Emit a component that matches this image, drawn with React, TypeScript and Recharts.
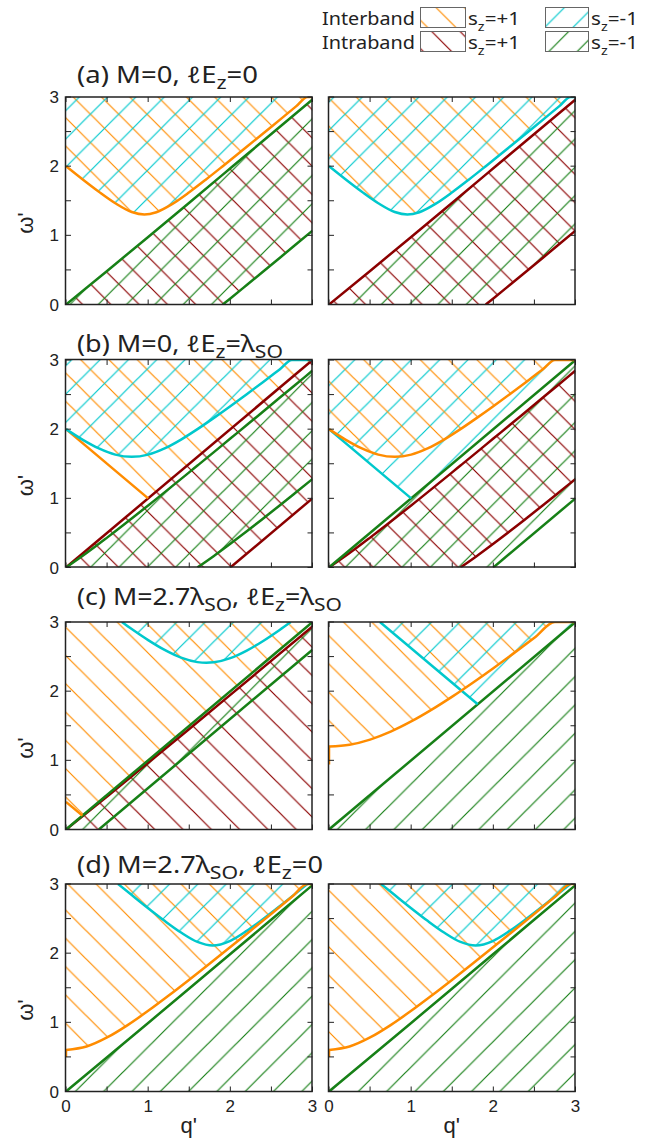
import React from "react";
import { ComposedChart, Area, Line, XAxis, YAxis } from "recharts";

// ---------------------------------------------------------------------------
// Data: continuum boundaries in (q', ω')
// ---------------------------------------------------------------------------

const TICKS = [0, 0.5, 1, 1.5, 2, 2.5, 3];
const TICK_LABELS = ["0", "1", "2", "3"];
const TOP = 3;

// (a) M=0, lEz=0
const A_INTER_Q = [0, 0.2, 0.4, 0.6, 0.8, 0.954, 1.1, 1.3, 1.5, 1.7, 1.908, 2.2, 2.5, 2.8, 2.94, 3];
const A_INTER_W = [2.0, 1.811, 1.63, 1.464, 1.337, 1.3, 1.334, 1.458, 1.623, 1.804, 2.0, 2.28, 2.571, 2.864, 3.0, 3.0];
const A_INTRA_Q = [0, 0.5, 1, 1.5, 1.908, 2, 2.2, 2.4, 2.6, 2.8, 3];
const A_INTRA_LO = [0, 0, 0, 0, 0, 0.088, 0.282, 0.477, 0.673, 0.87, 1.068];
const A_INTRA_HI = [0, 0.485, 0.977, 1.472, 1.878, 1.969, 2.168, 2.367, 2.567, 2.766, 2.965];

// (b) M=0, lEz=λSO : one massless branch, one with gap
const B0_INTER_Q = [0, 1, 3];
const B0_INTER_W = [2, 1, 3];
const B0_INTRA_Q = [0, 2, 3];
const B0_INTRA_LO = [0, 0, 1];
const B0_INTRA_HI = [0, 2, 3];
const B6_INTER_Q = [0, 0.2, 0.4, 0.6, 0.8, 1.0, 1.2, 1.4, 1.6, 1.8, 2.0, 2.2, 2.4, 2.6, 2.75, 3];
const B6_INTER_W = [2.0, 1.849, 1.721, 1.632, 1.6, 1.632, 1.721, 1.849, 2.0, 2.163, 2.332, 2.506, 2.683, 2.864, 3.0, 3.0];
const B6_INTRA_Q = [0, 0.25, 0.5, 1, 1.6, 1.8, 2, 2.2, 2.4, 2.6, 2.8, 3];
const B6_INTRA_LO = [0, 0, 0, 0, 0, 0.166, 0.342, 0.523, 0.709, 0.897, 1.088, 1.28];
const B6_INTRA_HI = [0, 0.209, 0.432, 0.897, 1.474, 1.668, 1.864, 2.059, 2.256, 2.453, 2.65, 2.847];

// (c) M=2.7λSO, lEz=λSO
const CL_OR_Q = [0, 0.2, 3];
const CL_OR_W = [0.4, 0.2, 3];
const CL_CY_Q = [0.68, 0.8, 1.0, 1.2, 1.4, 1.6, 1.708, 1.8, 2.0, 2.2, 2.4, 2.6, 2.736];
const CL_CY_W = [3.0, 2.898, 2.738, 2.596, 2.485, 2.42, 2.41, 2.417, 2.477, 2.586, 2.726, 2.885, 3.0];
const CL_STRIP_Q = [0, 0.4, 3];
const CL_STRIP_LO = [0, 0, 2.6];
const CL_STRIP_HI = [0, 0.4, 3];
const CL_DR_Q = [0, 0.5, 1, 1.5, 2, 2.5, 3];
const CL_DR_HI = [0, 0.478, 0.964, 1.454, 1.946, 2.441, 2.936];
const CR_OR_Q = [0, 0.25, 0.5, 0.75, 1, 1.25, 1.5, 1.75, 2, 2.25, 2.5, 2.75, 3];
const CR_OR_W = [1.2, 1.226, 1.3, 1.415, 1.562, 1.733, 1.921, 2.122, 2.332, 2.55, 2.773, 3.0, 3.0];
const CR_OR_STUB = [0.94, 1.2];
const CR_CY_Q = [0.62, 1.81, 3];
const CR_CY_W = [3, 1.81, 3];
const CR_GR_Q = [0, 3];
const CR_GR_HI = [0, 3];

// (d) M=2.7λSO, lEz=0
const D_OR_Q = [0, 0.25, 0.5, 0.75, 1, 1.25, 1.5, 1.75, 2, 2.25, 2.5, 2.75, 2.94, 3];
const D_OR_W = [0.6, 0.65, 0.781, 0.96, 1.166, 1.387, 1.616, 1.85, 2.088, 2.329, 2.571, 2.815, 3.0, 3.0];
const D_OR_STUB = [0.5, 0.6];
const D_CY_Q = [0.633, 0.8, 1.0, 1.2, 1.4, 1.6, 1.785, 2.0, 2.2, 2.4, 2.6, 2.8, 2.937];
const D_CY_W = [3.0, 2.84, 2.65, 2.467, 2.298, 2.162, 2.11, 2.179, 2.322, 2.494, 2.678, 2.868, 3.0];
const D_GR_Q = [0, 0.5, 1, 1.5, 2, 2.5, 3];
const D_GR_HI = [0, 0.495, 0.991, 1.489, 1.987, 2.486, 2.984];

// ---------------------------------------------------------------------------
// Styling / layout
// ---------------------------------------------------------------------------

const COLORS: Record<string, string> = {
  or: "#ff8c00",
  cy: "#00c8cc",
  dr: "#8b0000",
  gr: "#178017",
};
const DIR: Record<string, "back" | "slash"> = { or: "back", cy: "slash", dr: "back", gr: "slash" };
const P = 28.3; // hatch period, px
const FRAME = "#222";
const SANS = "'Liberation Sans', Arial, sans-serif";
const TITLE_FONT = "'Noto Sans', 'DejaVu Sans', sans-serif";

const COL_X = [65.5, 328.5];
const ROW_Y = [97, 359.5, 622, 884];
const PW = 246.5;
const PH = 207.5;
const ML = 60;
const MT = 10;
const CW = ML + PW + 10;
const CH = MT + PH + 40;
const TL = 5;

// hatch phase in page coords (x+y for "/", x-y for "\")
const PHASE_SLASH = 6;
const PHASE_BACK = 4;

type Pt = { q: number; r?: [number, number]; w?: number };

function band(qs: number[], lo: number[] | number, hi: number[] | number): Pt[] {
  return qs.map((q, i) => ({
    q,
    r: [Array.isArray(lo) ? lo[i] : lo, Array.isArray(hi) ? hi[i] : hi],
  }));
}
function edge(qs: number[], ws: number[]): Pt[] {
  return qs.map((q, i) => ({ q, w: ws[i] }));
}

interface Region { pts: Pt[]; c: string; curve?: "linear" | "monotone" }
interface Edge { pts: Pt[]; c: string; curve?: "linear" | "monotone" }
interface Spec { regions: Region[]; edges: Edge[] }

const aInter = band(A_INTER_Q, A_INTER_W, TOP);
const aIntra = band(A_INTRA_Q, A_INTRA_LO, A_INTRA_HI);
const aHi = edge(A_INTRA_Q, A_INTRA_HI);
const aLo = edge(A_INTRA_Q.slice(4), A_INTRA_LO.slice(4));

const b0Inter = band(B0_INTER_Q, B0_INTER_W, TOP);
const b0Intra = band(B0_INTRA_Q, B0_INTRA_LO, B0_INTRA_HI);
const b6Inter = band(B6_INTER_Q, B6_INTER_W, TOP);
const b6Intra = band(B6_INTRA_Q, B6_INTRA_LO, B6_INTRA_HI);
const b0Seg = edge(B0_INTER_Q.slice(0, 2), B0_INTER_W.slice(0, 2));
const b0Hi = edge([B0_INTRA_Q[0], B0_INTRA_Q[2]], [B0_INTRA_HI[0], B0_INTRA_HI[2]]);
const b0Lo = edge(B0_INTRA_Q.slice(1), B0_INTRA_LO.slice(1));
const b6Hi = edge(B6_INTRA_Q, B6_INTRA_HI);
const b6Lo = edge(B6_INTRA_Q.slice(4), B6_INTRA_LO.slice(4));
const b6Curve = edge(B6_INTER_Q, B6_INTER_W);

const SPECS: Spec[][] = [
  [
    {
      regions: [
        { pts: aInter, c: "or", curve: "monotone" },
        { pts: aInter, c: "cy", curve: "monotone" },
        { pts: aIntra, c: "dr" },
        { pts: aIntra, c: "gr" },
      ],
      edges: [
        { pts: edge(A_INTER_Q, A_INTER_W), c: "or", curve: "monotone" },
        { pts: aHi, c: "gr" },
        { pts: aLo, c: "gr", curve: "monotone" },
      ],
    },
    {
      regions: [
        { pts: aInter, c: "or", curve: "monotone" },
        { pts: aInter, c: "cy", curve: "monotone" },
        { pts: aIntra, c: "dr" },
        { pts: aIntra, c: "gr" },
      ],
      edges: [
        { pts: edge(A_INTER_Q, A_INTER_W), c: "cy", curve: "monotone" },
        { pts: aHi, c: "dr" },
        { pts: aLo, c: "dr", curve: "monotone" },
      ],
    },
  ],
  [
    {
      regions: [
        { pts: b0Inter, c: "or" },
        { pts: b6Inter, c: "cy", curve: "monotone" },
        { pts: b0Intra, c: "dr" },
        { pts: b6Intra, c: "gr", curve: "monotone" },
      ],
      edges: [
        { pts: b0Hi, c: "dr" },
        { pts: b0Lo, c: "dr" },
        { pts: b6Hi, c: "gr", curve: "monotone" },
        { pts: b6Lo, c: "gr", curve: "monotone" },
        { pts: b0Seg, c: "or" },
        { pts: b6Curve, c: "cy", curve: "monotone" },
      ],
    },
    {
      regions: [
        { pts: b0Inter, c: "cy" },
        { pts: b6Inter, c: "or", curve: "monotone" },
        { pts: b0Intra, c: "gr" },
        { pts: b6Intra, c: "dr", curve: "monotone" },
      ],
      edges: [
        { pts: b6Hi, c: "dr", curve: "monotone" },
        { pts: b6Lo, c: "dr", curve: "monotone" },
        { pts: b0Hi, c: "gr" },
        { pts: b0Lo, c: "gr" },
        { pts: b0Seg, c: "cy" },
        { pts: b6Curve, c: "or", curve: "monotone" },
      ],
    },
  ],
  [
    {
      regions: [
        { pts: band(CL_OR_Q, CL_OR_W, TOP), c: "or" },
        { pts: band(CL_CY_Q, CL_CY_W, TOP), c: "cy", curve: "monotone" },
        { pts: band(CL_DR_Q, 0, CL_DR_HI), c: "dr" },
        { pts: band(CL_STRIP_Q, CL_STRIP_LO, CL_STRIP_HI), c: "gr" },
      ],
      edges: [
        { pts: edge(CL_DR_Q, CL_DR_HI), c: "dr" },
        { pts: edge([CL_STRIP_Q[0], CL_STRIP_Q[2]], [CL_STRIP_HI[0], CL_STRIP_HI[2]]), c: "gr" },
        { pts: edge(CL_STRIP_Q.slice(1), CL_STRIP_LO.slice(1)), c: "gr" },
        { pts: edge(CL_OR_Q.slice(0, 2), CL_OR_W.slice(0, 2)), c: "or" },
        { pts: edge(CL_CY_Q, CL_CY_W), c: "cy", curve: "monotone" },
      ],
    },
    {
      regions: [
        { pts: band(CR_OR_Q, CR_OR_W, TOP), c: "or", curve: "monotone" },
        { pts: band(CR_CY_Q, CR_CY_W, TOP), c: "cy" },
        { pts: band(CR_GR_Q, 0, CR_GR_HI), c: "gr" },
      ],
      edges: [
        { pts: edge(CR_GR_Q, CR_GR_HI), c: "gr" },
        { pts: edge(CR_CY_Q.slice(0, 2), CR_CY_W.slice(0, 2)), c: "cy" },
        { pts: edge(CR_OR_Q, CR_OR_W), c: "or", curve: "monotone" },
        { pts: edge([0, 0], CR_OR_STUB), c: "or" },
      ],
    },
  ],
];

const dSpec: Spec = {
  regions: [
    { pts: band(D_OR_Q, D_OR_W, TOP), c: "or", curve: "monotone" },
    { pts: band(D_CY_Q, D_CY_W, TOP), c: "cy", curve: "monotone" },
    { pts: band(D_GR_Q, 0, D_GR_HI), c: "gr" },
  ],
  edges: [
    { pts: edge(D_GR_Q, D_GR_HI), c: "gr" },
    { pts: edge(D_CY_Q, D_CY_W), c: "cy", curve: "monotone" },
    { pts: edge(D_OR_Q, D_OR_W), c: "or", curve: "monotone" },
    { pts: edge([0, 0], D_OR_STUB), c: "or" },
  ],
};
SPECS.push([dSpec, dSpec]);

// ---------------------------------------------------------------------------
// Hatch patterns
// ---------------------------------------------------------------------------

const mod = (a: number, m: number) => ((a % m) + m) % m;

function Hatch({ id, color, dir, off }: { id: string; color: string; dir: "back" | "slash"; off: number }) {
  const d =
    dir === "slash"
      ? `M0,${P} L${P},0 M-2,2 L2,-2 M${P - 2},${P + 2} L${P + 2},${P - 2}`
      : `M0,0 L${P},${P} M-2,${P - 2} L2,${P + 2} M${P - 2},-2 L${P + 2},2`;
  return (
    <pattern id={id} patternUnits="userSpaceOnUse" width={P} height={P} x={off} y={0}>
      <path d={d} stroke={color} strokeWidth={1.2} fill="none" />
    </pattern>
  );
}

function hatchDefs(prefix: string, ox: number, oy: number) {
  return Object.keys(COLORS).map((c) => {
    const dir = DIR[c];
    const off = dir === "slash" ? mod(PHASE_SLASH - ox - oy, P) : mod(PHASE_BACK - ox + oy, P);
    return <Hatch key={c} id={`${prefix}-${c}`} color={COLORS[c]} dir={dir} off={off} />;
  });
}

// ---------------------------------------------------------------------------
// Panel
// ---------------------------------------------------------------------------

function Panel({ spec, row, col }: { spec: Spec; row: number; col: number }) {
  const left = COL_X[col] - ML;
  const top = ROW_Y[row] - MT;
  const pid = `h${row}${col}`;
  const showX = row === 3;
  const showY = col === 0;

  const xTick = (p: any) => {
    const { x, y, payload } = p;
    const v = payload.value;
    return (
      <g>
        <line x1={x} x2={x} y1={y} y2={y - TL} stroke={FRAME} />
        <line x1={x} x2={x} y1={y - PH} y2={y - PH + TL} stroke={FRAME} />
        {showX && Number.isInteger(v) && (
          <text x={x} y={y + 20} textAnchor="middle" fontFamily={SANS} fontSize={17} fill="#222">
            {TICK_LABELS[v]}
          </text>
        )}
      </g>
    );
  };
  const yTick = (p: any) => {
    const { x, y, payload } = p;
    const v = payload.value;
    return (
      <g>
        <line x1={x} x2={x + TL} y1={y} y2={y} stroke={FRAME} />
        <line x1={x + PW - TL} x2={x + PW} y1={y} y2={y} stroke={FRAME} />
        {showY && Number.isInteger(v) && (
          <text x={x - 7} y={y + 6} textAnchor="end" fontFamily={SANS} fontSize={17} fill="#222">
            {TICK_LABELS[v]}
          </text>
        )}
      </g>
    );
  };

  return (
    <div style={{ position: "absolute", left, top }}>
      <ComposedChart width={CW} height={CH} margin={{ top: MT, right: 10, left: 10, bottom: 10 }}>
        <defs>{hatchDefs(pid, left, top)}</defs>
        <XAxis
          dataKey="q"
          type="number"
          domain={[0, 3]}
          ticks={TICKS}
          interval={0}
          allowDataOverflow
          height={30}
          tickSize={0}
          tickMargin={0}
          axisLine={false}
          tick={xTick}
        />
        <YAxis
          type="number"
          domain={[0, 3]}
          ticks={TICKS}
          interval={0}
          allowDataOverflow
          width={50}
          tickSize={0}
          tickMargin={0}
          axisLine={false}
          tick={yTick}
        />
        {spec.regions.map((r, i) => (
          <Area
            key={`r${i}`}
            data={r.pts}
            dataKey="r"
            type={r.curve ?? "linear"}
            stroke="none"
            fill={`url(#${pid}-${r.c})`}
            fillOpacity={1}
            isAnimationActive={false}
            dot={false}
            activeDot={false}
          />
        ))}
        {spec.edges.map((e, i) => (
          <Line
            key={`e${i}`}
            data={e.pts}
            dataKey="w"
            type={e.curve ?? "linear"}
            stroke={COLORS[e.c]}
            strokeWidth={2.5}
            dot={false}
            activeDot={false}
            isAnimationActive={false}
          />
        ))}
      </ComposedChart>
    </div>
  );
}

// ---------------------------------------------------------------------------
// Overlay: frames, titles, axis titles, legend
// ---------------------------------------------------------------------------

const Sub = ({ children, size = 18 }: { children: React.ReactNode; size?: number }) => (
  <tspan fontSize={size} dy={6}>
    {children}
  </tspan>
);
const Up = ({ children }: { children: React.ReactNode }) => <tspan dy={-6}>{children}</tspan>;

const TITLE_Y = [83, 352, 605, 873];
const TITLE_W = [181, 206, 265, 246];

function Overlay() {
  const legendRows = [
    { label: "Interband", y: 7.5, c1: "or", c2: "cy" },
    { label: "Intraband", y: 31.5, c1: "dr", c2: "gr" },
  ];
  return (
    <svg width={653} height={1148} style={{ position: "absolute", left: 0, top: 0 }}>
      <defs>{hatchDefs("lg", 0, 0)}</defs>
      {ROW_Y.map((y, r) =>
        COL_X.map((x, c) => (
          <rect key={`f${r}${c}`} x={x} y={y} width={PW} height={PH} fill="none" stroke={FRAME} strokeWidth={1.5} />
        ))
      )}
      {ROW_Y.map((y, r) => (
        <text
          key={`w${r}`}
          transform={`translate(33, ${y + 126}) rotate(-90)`}
          textAnchor="middle"
          fontFamily={SANS}
          fontSize={22}
          fill="#222"
        >
          ω'
        </text>
      ))}
      {COL_X.map((x, c) => (
        <text key={`q${c}`} x={x + PW / 2} y={1133} textAnchor="middle" fontFamily={SANS} fontSize={22} fill="#222">
          q'
        </text>
      ))}
      <g fontFamily={TITLE_FONT} fontSize={23} fill="#222">
        <text x={77} y={TITLE_Y[0]} textLength={TITLE_W[0]} lengthAdjust="spacingAndGlyphs">
          (a) M=0, ℓE<Sub>z</Sub>
          <Up>=0</Up>
        </text>
        <text x={77} y={TITLE_Y[1]} textLength={TITLE_W[1]} lengthAdjust="spacingAndGlyphs">
          (b) M=0, ℓE<Sub>z</Sub>
          <Up>=λ</Up>
          <Sub>SO</Sub>
        </text>
        <text x={77} y={TITLE_Y[2]} textLength={TITLE_W[2]} lengthAdjust="spacingAndGlyphs">
          (c) M=2.7λ<Sub>SO</Sub>
          <Up>, ℓE</Up>
          <Sub>z</Sub>
          <Up>=λ</Up>
          <Sub>SO</Sub>
        </text>
        <text x={77} y={TITLE_Y[3]} textLength={TITLE_W[3]} lengthAdjust="spacingAndGlyphs">
          (d) M=2.7λ<Sub>SO</Sub>
          <Up>, ℓE</Up>
          <Sub>z</Sub>
          <Up>=0</Up>
        </text>
      </g>
      <g fontFamily={TITLE_FONT} fontSize={18.5} fill="#222">
        {legendRows.map((lr) => (
          <g key={lr.label}>
            <text x={322} y={lr.y + 17} textLength={93} lengthAdjust="spacingAndGlyphs">
              {lr.label}
            </text>
            <rect x={420.5} y={lr.y} width={45} height={20} fill={`url(#lg-${lr.c1})`} stroke="#666" strokeWidth={1} />
            <text x={468} y={lr.y + 17} textLength={52} lengthAdjust="spacingAndGlyphs">
              s<Sub size={13}>z</Sub>
              <Up>=+1</Up>
            </text>
            <rect x={545.5} y={lr.y} width={43} height={20} fill={`url(#lg-${lr.c2})`} stroke="#666" strokeWidth={1} />
            <text x={591} y={lr.y + 17} textLength={47} lengthAdjust="spacingAndGlyphs">
              s<Sub size={13}>z</Sub>
              <Up>=-1</Up>
            </text>
          </g>
        ))}
      </g>
    </svg>
  );
}

export default function App() {
  return (
    <div style={{ position: "absolute", left: 0, top: 0, width: 653, height: 1148, background: "#fff" }}>
      {SPECS.map((rowSpecs, r) =>
        rowSpecs.map((s, c) => <Panel key={`p${r}${c}`} spec={s} row={r} col={c} />)
      )}
      <Overlay />
    </div>
  );
}
